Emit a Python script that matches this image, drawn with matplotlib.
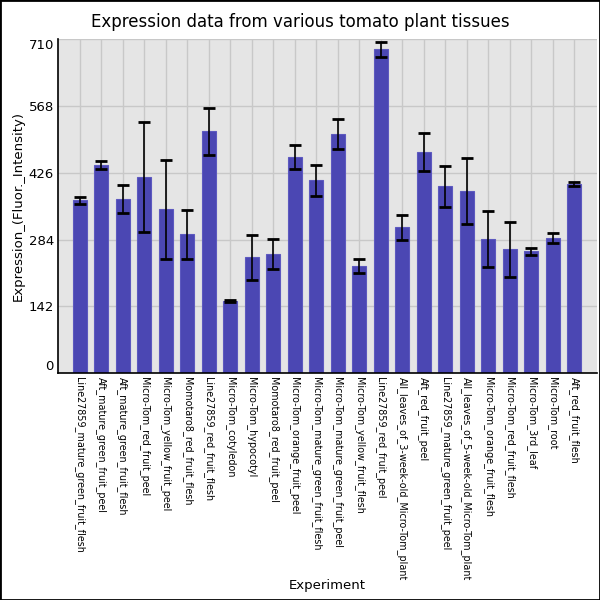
import numpy as np
import matplotlib.pyplot as plt

# --- Data ---------------------------------------------------------------------
experiments = [
    "Line27859_mature_green_fruit_flesh",
    "Aft_mature_green_fruit_peel",
    "Aft_mature_green_fruit_flesh",
    "Micro-Tom_red_fruit_peel",
    "Micro-Tom_yellow_fruit_peel",
    "Momotaro8_red_fruit_flesh",
    "Line27859_red_fruit_flesh",
    "Micro-Tom_cotyledon",
    "Micro-Tom_hypocotyl",
    "Momotaro8_red_fruit_peel",
    "Micro-Tom_orange_fruit_peel",
    "Micro-Tom_mature_green_fruit_flesh",
    "Micro-Tom_mature_green_fruit_peel",
    "Micro-Tom_yellow_fruit_flesh",
    "Line27859_red_fruit_peel",
    "All_leaves_of_3-week-old_Micro-Tom_plant",
    "Aft_red_fruit_peel",
    "Line27859_mature_green_fruit_peel",
    "All_leaves_of_5-week-old_Micro-Tom_plant",
    "Micro-Tom_orange_fruit_flesh",
    "Micro-Tom_red_fruit_flesh",
    "Micro-Tom_3rd_leaf",
    "Micro-Tom_root",
    "Aft_red_fruit_flesh",
]
expression = [367, 442, 370, 416, 348, 295, 514, 153, 246, 253, 459, 410,
              508, 227, 688, 310, 470, 397, 387, 285, 263, 259, 287, 402]
errors = [8, 9, 29, 117, 105, 52, 50, 2, 48, 32, 25, 33,
          31, 15, 16, 27, 40, 44, 70, 59, 59, 7, 11, 5]
yticks = [0, 142, 284, 426, 568, 710]

# --- Plot ---------------------------------------------------------------------
fig = plt.figure(figsize=(6, 6), dpi=100)
ax = fig.add_axes([0.0967, 0.378, 0.8983, 0.557])
ax.set_facecolor('#e5e5e5')

x = np.arange(len(experiments))
ax.bar(x, expression, width=0.65, color='#4b47b3', edgecolor='#5d59bf',
       linewidth=0.8, zorder=2)
ax.errorbar(x, expression, yerr=errors, fmt='none', ecolor='black',
            elinewidth=1.2, capsize=4.3, capthick=2, zorder=3)

ax.set_xlim(-1, 24.05)
ax.set_ylim(0, 710)
ax.set_yticks(yticks)
ylabels = ax.set_yticklabels([str(t) for t in yticks], fontsize=9.5)
# end labels pulled inside the axis range, like the original
ylabels[0].set_va('bottom')
ylabels[-1].set_va('top')
ax.set_xticks(x)
ax.set_xticklabels(experiments, rotation=270, fontsize=6.9, va='top', ha='center')
ax.tick_params(length=0, pad=3)
ax.grid(True, color='#c8c8c8', linewidth=1.0, zorder=0)
ax.set_axisbelow(True)

for side in ['top', 'right']:
    ax.spines[side].set_visible(False)
ax.spines['left'].set_linewidth(1.2)
ax.spines['bottom'].set_linewidth(1.2)

ax.set_ylabel("Expression_(Fluor._Intensity)", fontsize=9.5, labelpad=3)
ax.set_xlabel("Experiment", fontsize=9.5)
ax.xaxis.set_label_coords(0.5, -0.615)
fig.suptitle("Expression data from various tomato plant tissues", fontsize=12, y=0.978)

# black border round the whole figure
fig.patches.append(plt.Rectangle((0, 0), 1, 1, transform=fig.transFigure,
                                 fill=False, edgecolor='black', linewidth=2))

fig.savefig("out.png", dpi=100)
